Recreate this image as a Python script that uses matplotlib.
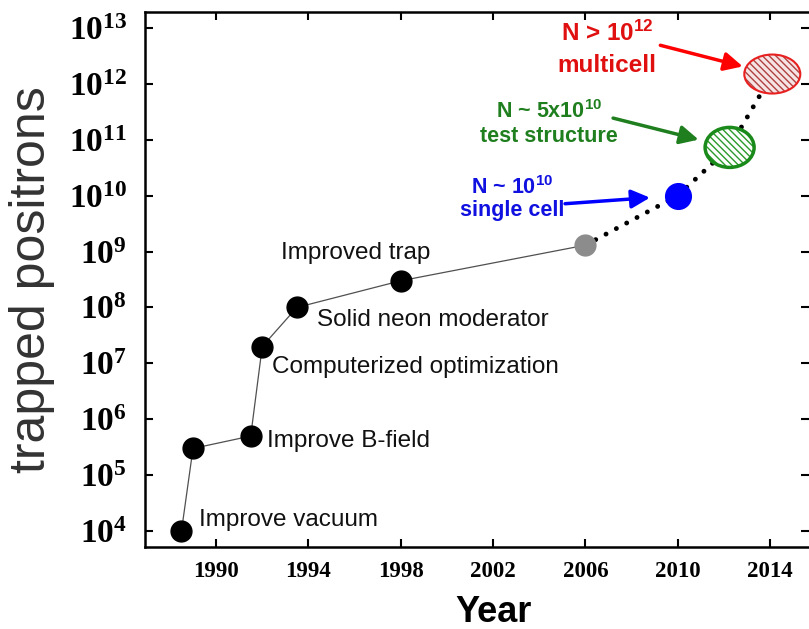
import matplotlib
matplotlib.use("Agg")
import matplotlib.pyplot as plt
from matplotlib.patches import Ellipse
from matplotlib.transforms import ScaledTranslation
from matplotlib.ticker import FixedLocator

plt.rcParams['font.family'] = ['Liberation Sans', 'DejaVu Sans']
plt.rcParams['mathtext.default'] = 'regular'
plt.rcParams['hatch.linewidth'] = 1.0

# measured history (black points + grey 2006 point)
years = [1988.5, 1989.0, 1991.5, 1992.0, 1993.5, 1998.0]
counts = [1e4, 3e5, 5e5, 2e7, 1e8, 3e8]
milestones = ["Improve vacuum", "", "Improve B-field", "Computerized optimization",
              "Solid neon moderator", "Improved trap"]
year_2006, count_2006 = 2006.0, 1.3e9

# projected goals
goal_years = [2010.0, 2012.25, 2014.1]
goal_counts = [1e10, 7.3e10, 1.5e12]
goal_top = ["N ~ 10$^{10}$", "N ~ 5x10$^{10}$", "N > 10$^{12}$"]
goal_bottom = ["single cell", "test structure", "multicell"]
goal_colors = ["#1010e0", "#1f7f1f", "#e01010"]

xticks = [1990, 1994, 1998, 2002, 2006, 2010, 2014]
yticks = [1e4, 1e5, 1e6, 1e7, 1e8, 1e9, 1e10, 1e11, 1e12, 1e13]

fig = plt.figure(figsize=(8.09, 6.29), dpi=100)
ax = fig.add_axes([145/809, 1 - 547/629, 664/809, 535/629])
ax.set_yscale('log')
ax.set_xlim(1986.92, 2015.69)
ax.set_ylim(10**3.714, 10**13.286)

# solid history line and dotted projection
ax.plot(years + [year_2006], counts + [count_2006], color='#505050', lw=0.9, zorder=2)
ax.plot([year_2006] + goal_years, [count_2006] + goal_counts, color='black', lw=3.5,
        linestyle=(0, (0.01, 2.4)), dash_capstyle='round', zorder=2)
ax.plot(years, counts, 'o', color='black', ms=15, zorder=4)
ax.plot([year_2006], [count_2006], 'o', color='#8c8c8c', ms=15, zorder=4)
ax.plot(goal_years[:1], goal_counts[:1], 'o', color='#0000ff', ms=18.5, zorder=4)

# hatched ellipses for test structure and multicell
ell_size = [(0.49, 0.40), (0.56, 0.39)]
ell_face = ['white', '#f6e4e4']
ell_hatch = ['#2a9a2a', '#b04040']
ell_edge = ['#1a8a1a', '#e82020']
ell_lw = [2.5, 1.5]
for i in range(2):
    yr, val = goal_years[i + 1], goal_counts[i + 1]
    w, h = ell_size[i]
    tr = fig.dpi_scale_trans + ScaledTranslation(yr, val, ax.transData)
    ax.add_patch(Ellipse((0, 0), w, h, transform=tr, facecolor=ell_face[i],
                         edgecolor='none', zorder=5))
    ax.add_patch(Ellipse((0, 0), w, h, transform=tr, facecolor='none',
                         edgecolor=ell_hatch[i], lw=0, hatch='\\\\\\\\\\', zorder=5))
    ax.add_patch(Ellipse((0, 0), w, h, transform=tr, facecolor='none',
                         edgecolor=ell_edge[i], lw=ell_lw[i], zorder=6))

# milestone labels
offsets = [(12.5, 7.7), None, (11.5, -3.4), (7.2, -14.6), (14.6, -8.9), (-86.4, 20.2)]
for yr, val, txt, off in zip(years, counts, milestones, offsets):
    if not txt:
        continue
    ax.annotate(txt, xy=(yr, val), xytext=off, textcoords='offset points',
                ha='left', va='center', fontsize=17.5, color='#111111')

# goal labels with arrows
arrow_tail = [(-81.1, -5.8), (-83.9, 21.1), (-80.6, 20.7)]
arrow_shrink = [20, 23, 22]
label_dx = [-119.3, -129.9, -119.0]
label_dy = [(5.8, -10.6), (25.6, 7.6), (29.5, 5.8)]
label_size = [15.5, 15.5, 17.5]
for i in range(3):
    yr, val, col = goal_years[i], goal_counts[i], goal_colors[i]
    arrow_col = ['#0000ff', '#1f7f1f', '#ff0000'][i]
    ax.annotate('', xy=(yr, val), xytext=arrow_tail[i], textcoords='offset points',
                arrowprops=dict(arrowstyle='-|>', color=arrow_col, lw=2.5,
                                mutation_scale=28, shrinkA=0, shrinkB=arrow_shrink[i]),
                zorder=7)
    ax.annotate(goal_top[i], xy=(yr, val), xytext=(label_dx[i], label_dy[i][0]),
                textcoords='offset points', ha='center', va='center',
                fontsize=label_size[i], fontweight='bold', color=col)
    ax.annotate(goal_bottom[i], xy=(yr, val), xytext=(label_dx[i], label_dy[i][1]),
                textcoords='offset points', ha='center', va='center',
                fontsize=label_size[i], fontweight='bold', color=col)

# axes styling
ax.xaxis.set_major_locator(FixedLocator(xticks))
ax.yaxis.set_major_locator(FixedLocator(yticks))
ax.minorticks_off()
ax.set_xticklabels([str(x) for x in xticks])
ax.tick_params(direction='in', length=6, width=1.5, top=True, right=True)
ax.tick_params(axis='x', pad=10)
ax.tick_params(axis='y', pad=13)
for lab in ax.get_xticklabels():
    lab.set_fontfamily('Liberation Serif')
    lab.set_fontweight('bold')
    lab.set_fontsize(16.5)
for lab in ax.get_yticklabels():
    lab.set_fontfamily('Liberation Serif')
    lab.set_fontweight('bold')
    lab.set_fontsize(24)
for side in ['left', 'top', 'bottom']:
    ax.spines[side].set_linewidth(1.8)
ax.spines['right'].set_visible(False)

ax.set_xlabel('Year', fontsize=26, fontweight='bold', va='center')
ax.xaxis.set_label_coords(0.525, -0.122)
ax.set_ylabel('trapped positrons', fontsize=36, color='#333333', va='center', ha='center')
ax.yaxis.set_label_coords(-0.170, 0.5)

fig.savefig('out.png', dpi=100)
